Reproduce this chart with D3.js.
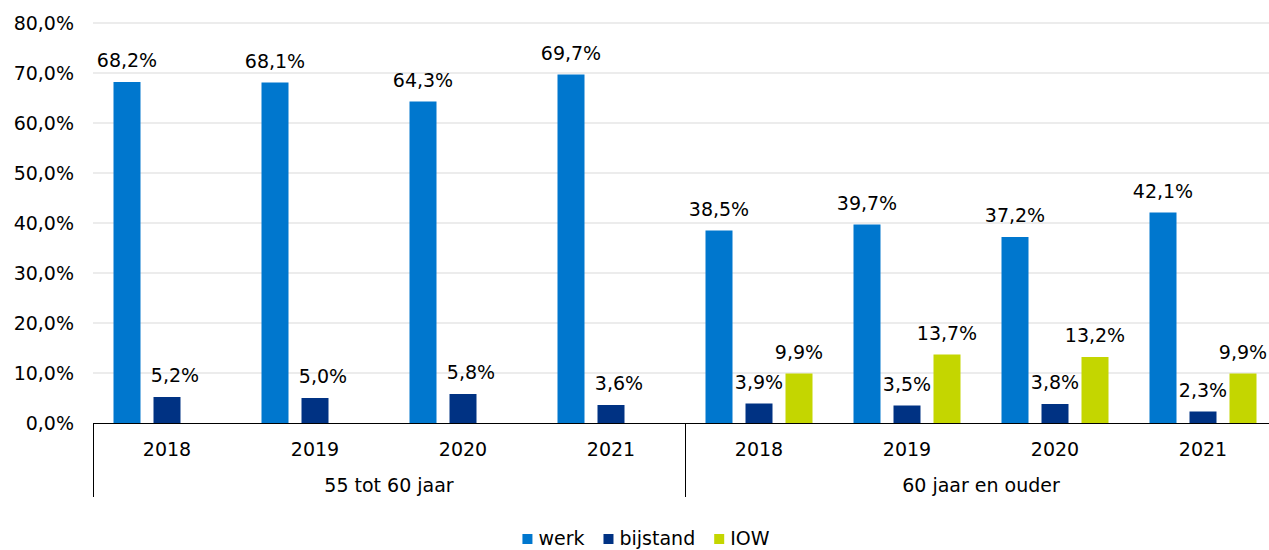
<!DOCTYPE html>
<html>
<head>
<meta charset="utf-8">
<script src="https://cdn.jsdelivr.net/npm/d3@7"></script>
<style>
  body { margin: 0; background: #fff; }
  svg { display: block; font-family: Verdana, "DejaVu Sans", sans-serif; }
</style>
</head>
<body>
<svg id="chart" width="1269" height="550"></svg>
<script>
const groups = ['55 tot 60 jaar', '60 jaar en ouder']
const years = ['2018', '2019', '2020', '2021']
const series = ['werk', 'bijstand', 'IOW']

// per group, per year
const werk = [[68.2, 68.1, 64.3, 69.7], [38.5, 39.7, 37.2, 42.1]]
const bijstand = [[5.2, 5.0, 5.8, 3.6], [3.9, 3.5, 3.8, 2.3]]
const iow = [[null, null, null, null], [9.9, 13.7, 13.2, 9.9]]

const yTicks = [0, 10, 20, 30, 40, 50, 60, 70, 80]

const colors = { werk: '#0077ce', bijstand: '#003283', IOW: '#c4d600' }
const fs = 19

const nl = d3.formatLocale({ decimal: ',', thousands: '.', grouping: [3], currency: ['€', ''] })
const pct = v => nl.format('.1f')(v) + '%'

const categories = []
groups.forEach((g, gi) => years.forEach((y, yi) => {
  categories.push({
    key: g + '|' + y, group: g, gi, year: y,
    values: { werk: werk[gi][yi], bijstand: bijstand[gi][yi], IOW: iow[gi][yi] }
  })
}))

const left = 93
const band = 148
const y0 = 423

const svg = d3.select('#chart')

const x0 = d3.scaleBand()
  .domain(categories.map(d => d.key))
  .range([left, left + band * categories.length])

const x1 = d3.scaleBand()
  .domain(series)
  .range([0, x0.bandwidth()])
  .paddingInner(0.325)
  .paddingOuter(0.5125)

const y = d3.scaleLinear().domain([0, 80]).range([y0, 23])

// grid
svg.append('g')
  .selectAll('line')
  .data(yTicks.filter(t => t > 0))
  .enter()
  .append('line')
  .attr('x1', left)
  .attr('x2', 1269)
  .attr('y1', d => y(d))
  .attr('y2', d => y(d))
  .attr('stroke', '#d9d9d9')
  .attr('stroke-width', 1)

// y labels
svg.append('g')
  .selectAll('text')
  .data(yTicks)
  .enter()
  .append('text')
  .attr('x', 74)
  .attr('y', d => y(d))
  .attr('dy', '0.36em')
  .attr('text-anchor', 'end')
  .attr('font-size', fs)
  .attr('fill', '#000')
  .text(d => pct(d))

// bars
const cat = svg.append('g')
  .selectAll('g')
  .data(categories)
  .enter()
  .append('g')
  .attr('transform', d => `translate(${x0(d.key)},0)`)

const items = cat.selectAll('g.item')
  .data(d => series.filter(s => d.values[s] != null)
    .map(s => ({ s, v: d.values[s], hasIow: d.values.IOW != null })))
  .enter()
  .append('g')
  .attr('class', 'item')

items.append('rect')
  .attr('x', d => x1(d.s))
  .attr('width', x1.bandwidth())
  .attr('y', d => y(d.v))
  .attr('height', d => y0 - y(d.v))
  .attr('fill', d => colors[d.s])

items.append('text')
  .attr('x', d => x1(d.s) + x1.bandwidth() / 2 + (d.s === 'bijstand' && !d.hasIow ? 8 : 0))
  .attr('y', d => y(d.v) - 15)
  .attr('text-anchor', 'middle')
  .attr('font-size', fs)
  .attr('fill', '#000')
  .text(d => pct(d.v))

// axis line
svg.append('line')
  .attr('x1', left).attr('x2', 1269)
  .attr('y1', y0 + 0.5).attr('y2', y0 + 0.5)
  .attr('stroke', '#000')

// category labels
svg.append('g')
  .selectAll('text')
  .data(categories)
  .enter()
  .append('text')
  .attr('x', d => x0(d.key) + x0.bandwidth() / 2)
  .attr('y', 456)
  .attr('text-anchor', 'middle')
  .attr('font-size', fs)
  .text(d => d.year)

// group separators and labels
const groupStart = gi => x0(groups[gi] + '|' + years[0])
svg.append('g')
  .selectAll('line')
  .data(groups)
  .enter()
  .append('line')
  .attr('x1', (d, i) => Math.round(groupStart(i)) + 0.5)
  .attr('x2', (d, i) => Math.round(groupStart(i)) + 0.5)
  .attr('y1', y0)
  .attr('y2', 497)
  .attr('stroke', '#000')

svg.append('g')
  .selectAll('text')
  .data(groups)
  .enter()
  .append('text')
  .attr('x', (d, i) => groupStart(i) + band * years.length / 2)
  .attr('y', 492)
  .attr('text-anchor', 'middle')
  .attr('font-size', fs)
  .text(d => d)

// legend
const legend = svg.append('g')
const legItems = legend.selectAll('g')
  .data(series)
  .enter()
  .append('g')

legItems.append('rect')
  .attr('width', 10)
  .attr('height', 10)
  .attr('y', 534)
  .attr('fill', d => colors[d])

legItems.append('text')
  .attr('x', 16)
  .attr('y', 545)
  .attr('font-size', fs)
  .text(d => d)

let lx = 0
legItems.each(function () {
  const w = 16 + this.querySelector('text').getComputedTextLength()
  d3.select(this).attr('transform', `translate(${lx},0)`)
  lx += w + 19
})
lx -= 19
legend.attr('transform', `translate(${646 - lx / 2},0)`)
</script>
</body>
</html>
